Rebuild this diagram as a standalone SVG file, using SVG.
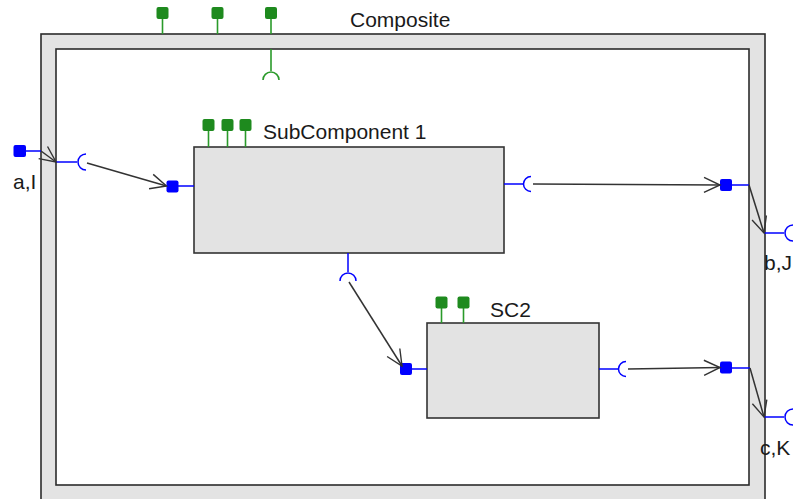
<svg xmlns="http://www.w3.org/2000/svg" width="793" height="499" viewBox="0 0 793 499">
  <defs>
    <marker id="open-arrow" markerUnits="userSpaceOnUse" markerWidth="18" markerHeight="18" refX="16" refY="8" orient="auto" overflow="visible">
      <path d="M0,0.5 L16,8 L0,15.5" fill="none" stroke="#333" stroke-width="1.4"/>
    </marker>
  </defs>
  <style>
    .frame { fill: #e3e3e3; stroke: #2b2b2b; stroke-width: 1.6; }
    .inner { fill: #ffffff; stroke: #2b2b2b; stroke-width: 1.6; }
    .box { fill: #e3e3e3; stroke: #333; stroke-width: 1.6; }
    .label { font-family: "Liberation Sans", Arial, sans-serif; font-size: 21px; fill: #1a1a1a; }
    .gport { fill: #1e8a1e; }
    .gline { stroke: #2a9a2a; stroke-width: 1.6; fill: none; }
    .bport { fill: #0000ff; }
    .bline { stroke: #0000ff; stroke-width: 1.5; fill: none; }
    .conn { stroke: #333; stroke-width: 1.5; fill: none; marker-end: url(#open-arrow); }
  </style>

  <rect width="793" height="499" fill="#ffffff"/>

  <!-- Composite container -->
  <g id="composite">
    <rect class="frame" x="41" y="34" width="724" height="480"/>
    <rect class="inner" x="56" y="49" width="693" height="436"/>
    <text class="label" x="350" y="27">Composite</text>
    <!-- configuration ports on top -->
    <line class="gline" x1="162.5" y1="19" x2="162.5" y2="34"/>
    <rect class="gport" x="156.5" y="7" width="12" height="12" rx="2"/>
    <line class="gline" x1="217.5" y1="19" x2="217.5" y2="34"/>
    <rect class="gport" x="211.5" y="7" width="12" height="12" rx="2"/>
    <line class="gline" x1="271" y1="19" x2="271" y2="34"/>
    <rect class="gport" x="265" y="7" width="12" height="12" rx="2"/>
    <line class="gline" x1="271" y1="49" x2="271" y2="71"/>
    <path class="gline" d="M263,80 A8,8 0 0 1 279,80"/>
    <!-- port a,I -->
    <rect class="bport" x="13.5" y="145" width="12.5" height="12" rx="2"/>
    <line class="bline" x1="26" y1="151" x2="41" y2="151"/>
    <text class="label" x="13" y="189">a,I</text>
    <line class="bline" x1="56" y1="162" x2="77" y2="162"/>
    <path class="bline" d="M86,154 A8,8 0 0 0 86,170"/>
    <!-- port b,J -->
    <line class="bline" x1="764" y1="233" x2="784" y2="233"/>
    <path class="bline" d="M793,225 A8,8 0 0 0 793,241"/>
    <text class="label" x="764" y="270">b,J</text>
    <!-- port c,K -->
    <line class="bline" x1="764" y1="417" x2="784" y2="417"/>
    <path class="bline" d="M793,409 A8,8 0 0 0 793,425"/>
    <text class="label" x="760" y="455">c,K</text>
    <!-- delegation points inside -->
    <rect class="bport" x="720" y="179" width="12" height="12" rx="2"/>
    <line class="bline" x1="732" y1="185" x2="749" y2="185"/>
    <rect class="bport" x="720" y="361.5" width="12" height="12" rx="2"/>
    <line class="bline" x1="732" y1="368" x2="750" y2="368"/>
  </g>

  <!-- SubComponent 1 -->
  <g id="subcomponent1">
    <rect class="box" x="194" y="147" width="310" height="106"/>
    <text class="label" x="263" y="139">SubComponent 1</text>
    <line class="gline" x1="208.5" y1="131" x2="208.5" y2="147"/>
    <rect class="gport" x="202.5" y="119" width="12" height="12" rx="2"/>
    <line class="gline" x1="227.5" y1="131" x2="227.5" y2="147"/>
    <rect class="gport" x="221.5" y="119" width="12" height="12" rx="2"/>
    <line class="gline" x1="245.5" y1="131" x2="245.5" y2="147"/>
    <rect class="gport" x="239.5" y="119" width="12" height="12" rx="2"/>
    <!-- left required port -->
    <rect class="bport" x="166.5" y="180.5" width="12" height="12" rx="2"/>
    <line class="bline" x1="178" y1="186" x2="194" y2="186"/>
    <!-- right provided port -->
    <line class="bline" x1="504" y1="184" x2="523" y2="184"/>
    <path class="bline" d="M531,176.5 A7.5,7.5 0 0 0 531,191.5"/>
    <!-- bottom provided port -->
    <line class="bline" x1="348" y1="253" x2="348" y2="272"/>
    <path class="bline" d="M340,281 A8,8 0 0 1 356,281"/>
  </g>

  <!-- SC2 -->
  <g id="sc2">
    <rect class="box" x="427" y="323" width="172" height="95"/>
    <text class="label" x="490" y="317">SC2</text>
    <line class="gline" x1="441.5" y1="308" x2="441.5" y2="323"/>
    <rect class="gport" x="435.5" y="296.5" width="12" height="12" rx="2"/>
    <line class="gline" x1="463.5" y1="308" x2="463.5" y2="323"/>
    <rect class="gport" x="457.5" y="296.5" width="12" height="12" rx="2"/>
    <!-- left required port -->
    <rect class="bport" x="400" y="363" width="12" height="12" rx="2"/>
    <line class="bline" x1="412" y1="369" x2="427" y2="369"/>
    <!-- right provided port -->
    <line class="bline" x1="599" y1="369" x2="618" y2="369"/>
    <path class="bline" d="M626,361.5 A7.5,7.5 0 0 0 626,376.5"/>
  </g>

  <!-- connectors -->
  <g id="connectors">
    <line class="conn" x1="41" y1="151" x2="56" y2="162"/>
    <line class="conn" x1="87" y1="163" x2="166.5" y2="186"/>
    <line class="conn" x1="533" y1="184" x2="720" y2="185"/>
    <line class="conn" x1="749" y1="185" x2="764" y2="233"/>
    <line class="conn" x1="349" y1="282" x2="402" y2="366"/>
    <line class="conn" x1="628" y1="369" x2="720" y2="367.5"/>
    <line class="conn" x1="750" y1="368" x2="764" y2="417"/>
  </g>
</svg>
